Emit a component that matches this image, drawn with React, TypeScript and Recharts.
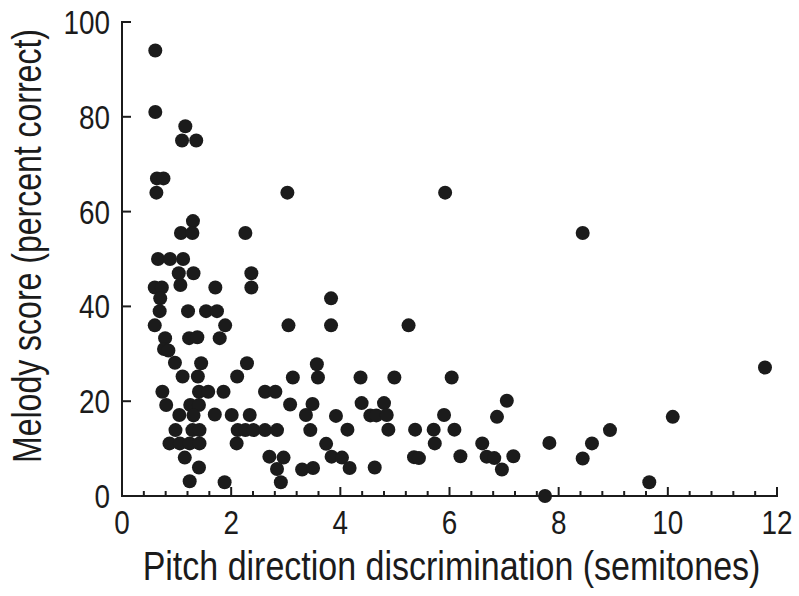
import React from 'react';
import { ScatterChart, Scatter, XAxis, YAxis } from 'recharts';

// Pitch direction discrimination (semitones)
const pitchDiscrimination = [
  0.61, 0.61, 1.16, 1.10, 1.36, 0.64, 0.76, 0.63, 3.03, 5.92,
  8.44, 1.30, 1.08, 1.29, 2.26, 0.66, 0.88, 1.12, 1.04, 1.31,
  2.37, 0.60, 0.73, 1.07, 1.71, 2.37, 0.70, 3.83, 0.69, 1.21,
  1.54, 1.74, 0.60, 1.89, 3.05, 3.83, 5.25, 0.79, 1.23, 1.38,
  1.79, 0.77, 0.85, 0.97, 1.45, 2.29, 3.57, 1.11, 1.39, 2.11,
  3.13, 3.59, 4.37, 4.99, 6.04, 0.74, 1.41, 1.58, 1.86, 2.62,
  2.81, 0.81, 1.25, 1.41, 3.08, 3.49, 4.39, 4.80, 7.05, 1.05,
  1.31, 1.70, 2.01, 2.34, 3.37, 3.92, 4.55, 4.66, 4.85, 5.90,
  6.87, 10.09, 0.98, 1.29, 1.42, 2.12, 2.26, 2.41, 2.62, 2.84,
  3.45, 4.13, 4.88, 5.37, 5.71, 6.09, 8.94, 0.87, 1.06, 1.24,
  1.42, 2.10, 3.74, 5.73, 6.60, 7.83, 8.61, 1.15, 2.70, 2.96,
  3.84, 4.03, 5.35, 5.44, 6.20, 6.68, 6.82, 7.17, 8.44, 1.41,
  2.84, 3.30, 3.50, 4.17, 4.63, 6.96, 1.24, 1.88, 2.91, 9.66,
  7.75, 11.78,
];

// Melody score (percent correct)
const melodyScore = [
  94, 81, 78, 75, 75, 67, 67, 64, 64, 64,
  55.5, 58, 55.5, 55.5, 55.5, 50, 50, 50, 47, 47,
  47, 44, 44, 44.5, 44, 44, 41.7, 41.7, 39, 39,
  39, 39, 36, 36, 36, 36, 36, 33.3, 33.3, 33.5,
  33.3, 31, 30.7, 28.1, 28, 28, 27.8, 25.2, 25.2, 25.2,
  25, 25, 25, 25, 25, 22, 22, 22, 22, 22,
  22, 19.2, 19.2, 19.2, 19.3, 19.4, 19.6, 19.6, 20.1, 17.1,
  17, 17.2, 17.1, 17.1, 17.1, 16.9, 17, 17, 17.1, 17.1,
  16.7, 16.7, 13.9, 13.9, 13.9, 13.9, 13.9, 13.9, 13.9, 13.9,
  13.9, 14, 14, 14, 14, 14, 13.9, 11.1, 11.1, 11.1,
  11.1, 11.1, 11, 11.1, 11.1, 11.2, 11.1, 8.1, 8.3, 8.1,
  8.3, 8.1, 8.2, 8.0, 8.4, 8.3, 8.0, 8.4, 7.9, 6.0,
  5.7, 5.6, 5.9, 5.9, 6.0, 5.6, 3.1, 2.9, 2.9, 2.9,
  0, 27.1,
];

const xMajorTicks = [0, 2, 4, 6, 8, 10, 12];
const xMinorTicks = [
  0.4, 0.8, 1.2, 1.6, 2.4, 2.8, 3.2, 3.6, 4.4, 4.8, 5.2, 5.6,
  6.4, 6.8, 7.2, 7.6, 8.4, 8.8, 9.2, 9.6, 10.4, 10.8, 11.2, 11.6,
];
const yMajorTicks = [0, 20, 40, 60, 80, 100];

const xTitle = 'Pitch direction discrimination (semitones)';
const yTitle = 'Melody score (percent correct)';

const data = pitchDiscrimination.map((x, i) => ({ x, y: melodyScore[i] }));
const xAllTicks = [...xMajorTicks, ...xMinorTicks].sort((a, b) => a - b);

const INK = '#1b1b1b';
const FONT = '"Liberation Sans", Arial, sans-serif';
const TICK_FS = 34;
const TICK_SX = 0.82;
const TITLE_FS = 40;
const MAJOR_LEN = 9;
const MINOR_LEN = 5;

const BottomTick = (props: any) => {
  const { x, y, payload } = props;
  const v = payload.value;
  const major = xMajorTicks.includes(v);
  return (
    <g>
      <line x1={x} x2={x} y1={y} y2={y - (major ? MAJOR_LEN : MINOR_LEN)} stroke={INK} strokeWidth={2} />
      {major && (
        <text
          transform={`translate(${x},${y + 38}) scale(${TICK_SX},1)`}
          textAnchor="middle"
          fontSize={TICK_FS}
          fontFamily={FONT}
          fill={INK}
        >
          {v}
        </text>
      )}
    </g>
  );
};

const TopTick = (props: any) => {
  const { x, y, payload } = props;
  const major = xMajorTicks.includes(payload.value);
  return <line x1={x} x2={x} y1={y} y2={y + (major ? MAJOR_LEN : MINOR_LEN)} stroke={INK} strokeWidth={2} />;
};

const LeftTick = (props: any) => {
  const { x, y, payload } = props;
  return (
    <g>
      <line x1={x} x2={x + MAJOR_LEN} y1={y} y2={y} stroke={INK} strokeWidth={2} />
      <text
        transform={`translate(${x - 12},${y + 12}) scale(${TICK_SX},1)`}
        textAnchor="end"
        fontSize={TICK_FS}
        fontFamily={FONT}
        fill={INK}
      >
        {payload.value}
      </text>
    </g>
  );
};

const RightTick = (props: any) => {
  const { x, y } = props;
  return <line x1={x} x2={x - MAJOR_LEN} y1={y} y2={y} stroke={INK} strokeWidth={2} />;
};

const XTitle = (props: any) => {
  const vb = props.viewBox;
  const cx = vb.x + vb.width / 2 + 2;
  const cy = vb.y + 84;
  return (
    <text
      transform={`translate(${cx},${cy}) scale(0.85,1)`}
      textAnchor="middle"
      fontSize={TITLE_FS}
      fontFamily={FONT}
      fill={INK}
    >
      {xTitle}
    </text>
  );
};

const YTitle = (props: any) => {
  const vb = props.viewBox;
  const cx = vb.x - 21;
  const cy = vb.y + vb.height / 2 - 13;
  return (
    <text
      transform={`translate(${cx},${cy}) rotate(-90) scale(0.8,1)`}
      textAnchor="middle"
      fontSize={TITLE_FS}
      fontFamily={FONT}
      fill={INK}
    >
      {yTitle}
    </text>
  );
};

const Dot = (props: any) => <circle cx={props.cx} cy={props.cy} r={7} fill={INK} />;

const axisLine = { stroke: INK, strokeWidth: 2, strokeLinecap: 'square' as const };

export default function App() {
  return (
    <div style={{ position: 'absolute', left: 0, top: 0, width: 799, height: 596, background: '#fff' }}>
      <ScatterChart width={799} height={596} margin={{ top: 22, right: 22, bottom: 70, left: 62 }}>
        <XAxis
          xAxisId={0}
          dataKey="x"
          type="number"
          domain={[0, 12]}
          ticks={xAllTicks}
          interval={0}
          height={30}
          tickSize={0}
          tickMargin={0}
          tickLine={false}
          axisLine={axisLine}
          tick={<BottomTick />}
          label={<XTitle />}
        />
        <XAxis
          xAxisId="top"
          orientation="top"
          type="number"
          domain={[0, 12]}
          ticks={xAllTicks}
          interval={0}
          height={0}
          tickSize={0}
          tickMargin={0}
          tickLine={false}
          axisLine={axisLine}
          tick={<TopTick />}
        />
        <YAxis
          yAxisId={0}
          dataKey="y"
          type="number"
          domain={[0, 100]}
          ticks={yMajorTicks}
          interval={0}
          width={60}
          tickSize={0}
          tickMargin={0}
          tickLine={false}
          axisLine={axisLine}
          tick={<LeftTick />}
          label={<YTitle />}
        />
        <YAxis
          yAxisId="right"
          orientation="right"
          type="number"
          domain={[0, 100]}
          ticks={yMajorTicks}
          interval={0}
          width={0}
          tickSize={0}
          tickMargin={0}
          tickLine={false}
          axisLine={axisLine}
          tick={<RightTick />}
        />
        <Scatter data={data} xAxisId={0} yAxisId={0} shape={<Dot />} isAnimationActive={false} />
      </ScatterChart>
    </div>
  );
}
